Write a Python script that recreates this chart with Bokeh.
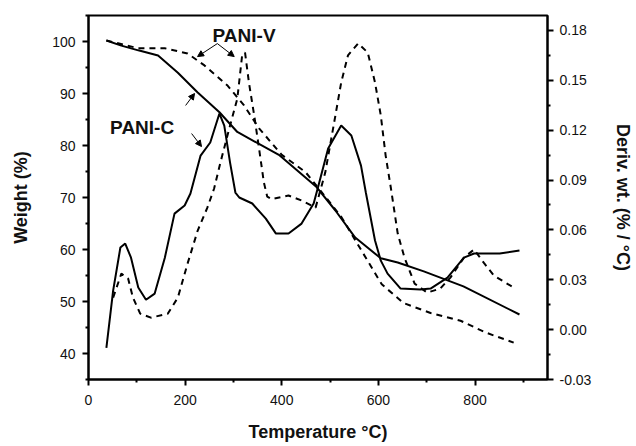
from bokeh.plotting import figure
from bokeh.models import (Range1d, LinearAxis, FixedTicker, PrintfTickFormatter,
                          Label, Arrow, NormalHead)
from bokeh.embed import file_html
from bokeh.resources import INLINE

# ---- data ----
# TGA weight (%) curves, left axis
tga_c_temp = [37, 68, 103, 144, 185, 226, 271, 308, 394, 472, 511, 552, 605, 640, 694, 776, 892]
tga_c_wt = [100.2, 99.2, 98.3, 97.3, 94.0, 90.2, 86.4, 82.6, 78.2, 72.0, 67.5, 62.3, 58.3, 57.5, 55.8, 52.9, 47.5]

tga_v_temp = [37, 103, 158, 205, 240, 287, 322, 353, 400, 449, 476, 523, 565, 607, 652, 708, 770, 823, 880]
tga_v_wt = [100.2, 98.7, 98.7, 97.7, 95.4, 91.6, 87.7, 83.3, 78.2, 74.9, 71.8, 66.3, 59.8, 53.3, 49.7, 47.8, 46.3, 44.0, 42.1]

# Derivative weight (%/°C) curves, right axis
dtg_c_temp = [37, 51, 66, 76, 88, 103, 119, 137, 158, 178, 199, 211, 232, 252, 271, 281, 293, 304,
              312, 339, 367, 388, 414, 441, 466, 476, 496, 523, 544, 564, 574, 593, 605, 619, 646,
              687, 708, 743, 777, 798, 851, 892]
dtg_c_val = [-0.011, 0.0235, 0.0494, 0.0518, 0.0433, 0.0253, 0.018, 0.0217, 0.0433, 0.0698, 0.0747,
             0.0819, 0.1047, 0.1126, 0.130, 0.1228, 0.1005, 0.0825, 0.0795, 0.0759, 0.0668, 0.0578,
             0.0578, 0.0638, 0.0759, 0.0867, 0.109, 0.1228, 0.1168, 0.0987, 0.0825, 0.0536, 0.0415,
             0.0337, 0.0247, 0.0241, 0.0247, 0.0313, 0.0433, 0.0458, 0.0458, 0.0476]

dtg_v_temp = [51, 68, 82, 92, 107, 129, 164, 185, 205, 226, 246, 260, 273, 293, 308, 318, 324, 332,
              343, 353, 363, 370, 379, 414, 441, 470, 490, 511, 523, 537, 558, 578, 593, 605, 615,
              626, 640, 654, 675, 701, 728, 749, 777, 798, 818, 839, 880]
dtg_v_val = [0.0193, 0.0337, 0.0307, 0.0193, 0.0096, 0.0072, 0.0096, 0.0193, 0.0397, 0.0596, 0.0734,
             0.0849, 0.1005, 0.1228, 0.139, 0.165, 0.1667, 0.1487, 0.1288, 0.109, 0.0885, 0.080,
             0.0785, 0.0807, 0.0777, 0.0734, 0.0945, 0.1288, 0.1487, 0.165, 0.1722, 0.1667, 0.1487,
             0.1288, 0.1047, 0.0849, 0.0578, 0.0433, 0.0277, 0.0223, 0.0247, 0.0313, 0.0433, 0.0482,
             0.0403, 0.0325, 0.0253]

x_ticks = [0, 200, 400, 600, 800]
x_minor = [100, 300, 500, 700, 900]
wt_ticks = [40, 50, 60, 70, 80, 90, 100]
wt_minor = [35, 45, 55, 65, 75, 85, 95, 105]
d_ticks = [-0.03, 0.0, 0.03, 0.06, 0.09, 0.12, 0.15, 0.18]
d_minor = [-0.015, 0.015, 0.045, 0.075, 0.105, 0.135, 0.165]

FONT = "Liberation Sans"

p = figure(width=636, height=446, x_range=Range1d(0, 950), y_range=Range1d(35, 105),
           output_backend="svg", toolbar_location=None,
           min_border_left=88, min_border_right=85, min_border_top=15, min_border_bottom=67)
p.extra_y_ranges = {"deriv": Range1d(-0.03, 0.189)}

p.xgrid.visible = False
p.ygrid.visible = False
p.outline_line_color = "black"
p.outline_line_width = 2
p.background_fill_color = "white"
p.border_fill_color = "white"

def style_axis(ax):
    ax.axis_line_width = 2
    ax.axis_line_color = "black"
    ax.major_tick_line_width = 2
    ax.major_tick_line_color = "black"
    ax.minor_tick_line_width = 2
    ax.minor_tick_line_color = "black"
    ax.major_tick_in = 0
    ax.major_tick_out = 6
    ax.minor_tick_in = 0
    ax.minor_tick_out = 3
    ax.major_label_text_font = FONT
    ax.major_label_text_font_size = "14px"
    ax.major_label_text_color = "#111111"
    ax.axis_label_text_font = FONT
    ax.axis_label_text_font_style = "bold"
    ax.axis_label_text_font_size = "18px"
    ax.axis_label_text_color = "#111111"

xa = p.xaxis[0]
xa.ticker = FixedTicker(ticks=x_ticks, minor_ticks=x_minor)
xa.axis_label = "Temperature °C)"
style_axis(xa)
xa.major_label_standoff = 9
xa.axis_label_standoff = 14

ya = p.yaxis[0]
ya.ticker = FixedTicker(ticks=wt_ticks, minor_ticks=wt_minor)
ya.axis_label = "Weight (%)"
style_axis(ya)
ya.major_label_standoff = 7
ya.axis_label_standoff = 18

ra = LinearAxis(y_range_name="deriv", axis_label="Deriv. wt. (% / °C)",
                ticker=FixedTicker(ticks=d_ticks, minor_ticks=d_minor),
                formatter=PrintfTickFormatter(format="%.2f"))
style_axis(ra)
ra.major_label_standoff = 6
ra.axis_label_standoff = 19
p.add_layout(ra, "right")

# TGA curves
p.line(tga_c_temp, tga_c_wt, line_color="black", line_width=2)
p.line(tga_v_temp, tga_v_wt, line_color="black", line_width=2, line_dash="6 5")
# derivative curves
p.line(dtg_c_temp, dtg_c_val, line_color="black", line_width=2, y_range_name="deriv")
p.line(dtg_v_temp, dtg_v_val, line_color="black", line_width=2, line_dash="6 5",
       y_range_name="deriv")

# annotations
p.add_layout(Label(x=322, y=101.2, text="PANI-V", text_font=FONT, text_font_style="bold",
                   text_font_size="19px", text_align="center", text_baseline="alphabetic",
                   text_color="#111111"))
p.add_layout(Label(x=111, y=83.5, text="PANI-C", text_font=FONT, text_font_style="bold",
                   text_font_size="19px", text_align="center", text_baseline="alphabetic",
                   text_color="#111111"))

arrows = [
    (266.7, 99.6, 225.7, 97.1),
    (266.7, 99.6, 301.6, 97.1),
    (201.0, 87.7, 219.5, 90.0),
    (213.4, 82.3, 233.9, 79.8),
]
for xs, ys, xe, ye in arrows:
    p.add_layout(Arrow(end=NormalHead(size=6, fill_color="black", line_color="black"),
                       x_start=xs, y_start=ys, x_end=xe, y_end=ye,
                       line_color="black", line_width=1))

open("out.html", "w").write(file_html(p, INLINE))
